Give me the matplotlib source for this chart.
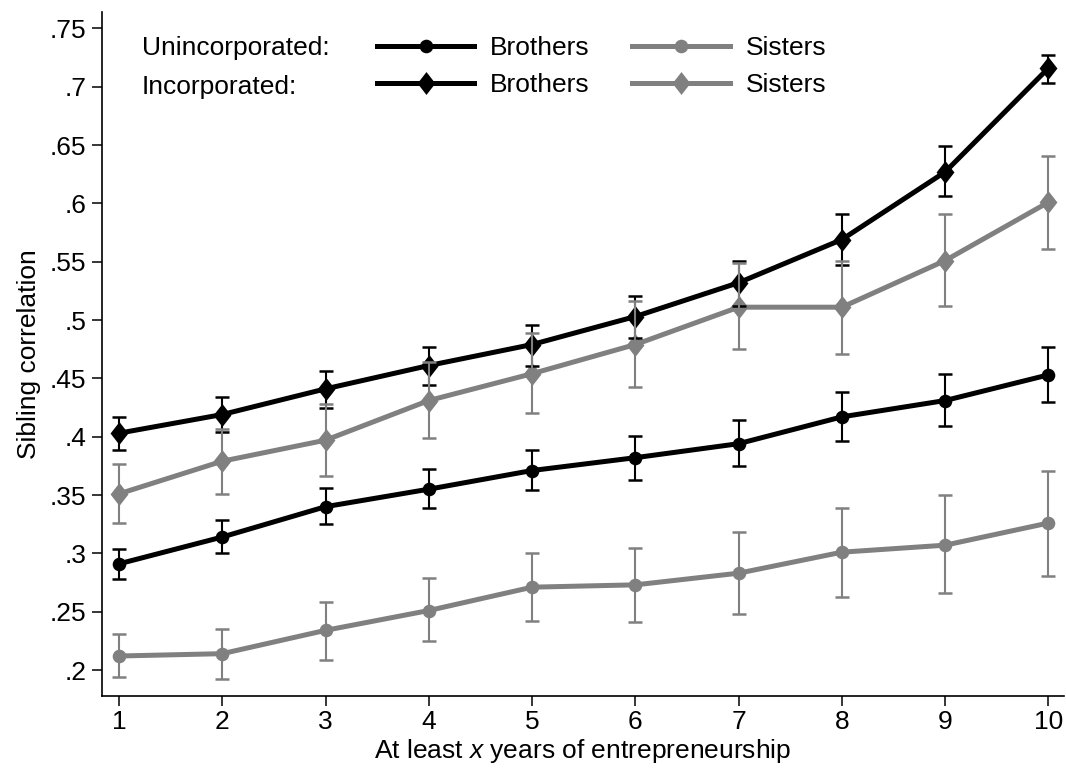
import matplotlib
matplotlib.use("Agg")
import matplotlib.pyplot as plt
from matplotlib.path import Path

plt.rcParams["font.family"] = ["Liberation Sans", "DejaVu Sans"]
plt.rcParams["mathtext.fontset"] = "custom"
plt.rcParams["mathtext.rm"] = "Liberation Sans"
plt.rcParams["mathtext.it"] = "Liberation Sans:italic"

years = [1, 2, 3, 4, 5, 6, 7, 8, 9, 10]

# unincorporated
unc_bro = [0.291, 0.314, 0.340, 0.355, 0.371, 0.382, 0.394, 0.417, 0.431, 0.453]
unc_bro_lo = [0.278, 0.300, 0.325, 0.339, 0.354, 0.363, 0.375, 0.396, 0.409, 0.430]
unc_bro_hi = [0.304, 0.329, 0.356, 0.372, 0.389, 0.401, 0.414, 0.438, 0.454, 0.477]

unc_sis = [0.212, 0.214, 0.234, 0.251, 0.271, 0.273, 0.283, 0.301, 0.307, 0.326]
unc_sis_lo = [0.194, 0.192, 0.209, 0.225, 0.242, 0.241, 0.248, 0.263, 0.266, 0.281]
unc_sis_hi = [0.231, 0.235, 0.258, 0.279, 0.300, 0.305, 0.318, 0.339, 0.350, 0.371]

# incorporated
inc_bro = [0.403, 0.419, 0.441, 0.461, 0.479, 0.503, 0.532, 0.569, 0.627, 0.716]
inc_bro_lo = [0.389, 0.404, 0.425, 0.444, 0.461, 0.485, 0.512, 0.547, 0.606, 0.703]
inc_bro_hi = [0.417, 0.434, 0.456, 0.477, 0.496, 0.521, 0.551, 0.591, 0.649, 0.727]

inc_sis = [0.351, 0.379, 0.397, 0.431, 0.454, 0.479, 0.511, 0.511, 0.551, 0.601]
inc_sis_lo = [0.326, 0.351, 0.366, 0.399, 0.420, 0.443, 0.475, 0.471, 0.512, 0.561]
inc_sis_hi = [0.377, 0.407, 0.428, 0.464, 0.489, 0.516, 0.549, 0.551, 0.591, 0.641]

yticks = [0.2, 0.25, 0.3, 0.35, 0.4, 0.45, 0.5, 0.55, 0.6, 0.65, 0.7, 0.75]
ytick_labels = [".2", ".25", ".3", ".35", ".4", ".45", ".5", ".55", ".6", ".65", ".7", ".75"]

GRAY = "#808080"
FS = 19
diamond = Path([(0, 1), (0.78, 0), (0, -1), (-0.78, 0), (0, 1)],
               [Path.MOVETO, Path.LINETO, Path.LINETO, Path.LINETO, Path.CLOSEPOLY])

fig = plt.figure(figsize=(10.66, 7.69), dpi=100)
ax = fig.add_axes([0.0954, 0.0943, 0.9027, 0.8905])

series = [
    (unc_bro, unc_bro_lo, unc_bro_hi, "black", "o", 9.8),
    (unc_sis, unc_sis_lo, unc_sis_hi, GRAY, "o", 9.8),
    (inc_bro, inc_bro_lo, inc_bro_hi, "black", diamond, 16.5),
    (inc_sis, inc_sis_lo, inc_sis_hi, GRAY, diamond, 16.5),
]

handles = []
for y, lo, hi, col, mk, ms in series:
    h, = ax.plot(years, y, color=col, lw=3.6, marker=mk, ms=ms,
                 markeredgewidth=0, zorder=2)
    handles.append(h)
for y, lo, hi, col, mk, ms in series:
    err = [[a - b for a, b in zip(y, lo)], [c - a for a, c in zip(y, hi)]]
    ax.errorbar(years, y, yerr=err, fmt="none", ecolor=col, elinewidth=1.5,
                capsize=4.8, capthick=1.8, zorder=3)

ax.set_xlim(0.8325, 10.15)
ax.set_ylim(0.1773, 0.7643)
ax.set_xticks(years)
ax.set_yticks(yticks)
ax.set_yticklabels(ytick_labels)
ax.tick_params(direction="out", length=7, width=1.1, labelsize=FS, pad=3)
ax.tick_params(axis="y", pad=4)
for side in ["top", "right"]:
    ax.spines[side].set_visible(False)
for side in ["left", "bottom"]:
    ax.spines[side].set_linewidth(1.2)

ax.set_xlabel("At least $x$ years of entrepreneurship", fontsize=FS, labelpad=2)
ax.set_ylabel("Sibling correlation", fontsize=FS, labelpad=6)

# legend
ax.text(0.0416, 0.9368, "Unincorporated:", transform=ax.transAxes, fontsize=FS,
        va="baseline", ha="left")
ax.text(0.0416, 0.8792, "Incorporated:", transform=ax.transAxes, fontsize=FS,
        va="baseline", ha="left")
leg_handles = [handles[0], handles[2], handles[1], handles[3]]
ax.legend(leg_handles, ["Brothers", "Brothers", "Sisters", "Sisters"], ncol=2,
          frameon=False, fontsize=FS, loc="upper left",
          bbox_to_anchor=(0.264, 0.995), handlelength=3.7, handletextpad=0.6,
          columnspacing=1.6, labelspacing=0.5, borderpad=0.3)

fig.savefig("out.png", dpi=100)
